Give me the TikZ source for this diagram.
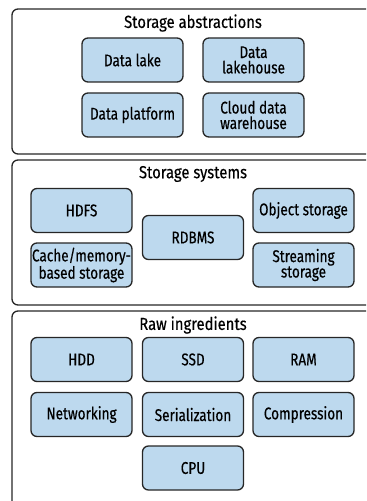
\documentclass[tikz,border=0pt]{standalone}
\usepackage{fontspec}
\setmainfont[FakeStretch=0.80,FakeBold=0.4]{Fira Sans}
\newfontfamily\ttlfont[FakeStretch=0.85,FakeBold=0.4]{Fira Sans}
\begin{document}
\begin{tikzpicture}[x=1bp,y=-1bp,
  outer/.style={draw=black!85, line width=1.3bp, rounded corners=6bp},
  item/.style={draw=black!85, line width=1.3bp, rounded corners=6bp, fill=blue1,
    minimum width=101bp, minimum height=44bp, inner sep=1bp, align=center,
    font=\fontsize{17}{15.5}\selectfont},
  ttl/.style={font=\ttlfont\fontsize{17.5}{18}\selectfont}]
\definecolor{blue1}{HTML}{BDD9EE}
\useasboundingbox (0,0) rectangle (366,501);
\clip (0,0) rectangle (366,501);
% frames
\draw[outer] (12,9) rectangle (385,154);
\draw[outer] (12,160) rectangle (385,305);
\draw[outer] (12,311) rectangle (385,520);
% titles
\node[ttl] (t1) at (193,23) {Storage abstractions};
\node[ttl] (t2) at (193,174) {Storage systems};
\node[ttl] (t3) at (193,325) {Raw ingredients};
% storage abstractions
\node[item] (lake) at (132.5,60) {Data lake};
\node[item] (lakehouse) at (253.5,60) {Data\\lakehouse};
\node[item] (platform) at (132.5,115) {Data platform};
\node[item] (cdw) at (253.5,115) {Cloud data\\warehouse};
% storage systems
\node[item] (hdfs) at (81.5,210.5) {HDFS};
\node[item] (rdbms) at (193,237.5) {RDBMS};
\node[item] (obj) at (303.5,210.5) {Object storage};
\node[item] (cache) at (81.5,265) {Cache/memory-\\based storage};
\node[item] (stream) at (303.5,265) {Streaming\\storage};
% raw ingredients
\node[item] (hdd) at (81.5,359.5) {HDD};
\node[item] (ssd) at (193,359.5) {SSD};
\node[item] (ram) at (303.5,359.5) {RAM};
\node[item] (net) at (81.5,414.5) {Networking};
\node[item] (ser) at (193,414.5) {Serialization};
\node[item] (comp) at (303.5,414.5) {Compression};
\node[item] (cpu) at (193,468) {CPU};
\end{tikzpicture}
\end{document}
